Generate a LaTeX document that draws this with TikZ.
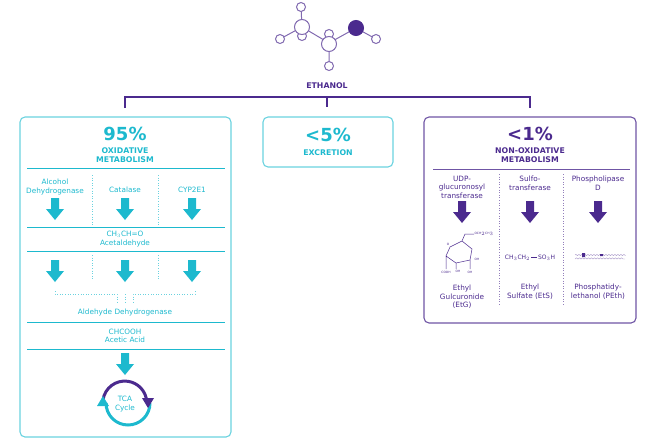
\documentclass[tikz,border=0pt]{standalone}
\usepackage{fontspec}
\usetikzlibrary{decorations.pathmorphing}
\setmainfont{DejaVu Sans}
\begin{document}
\begin{tikzpicture}[x=1pt,y=-1pt,
  cy/.style={text=cyanc,font=\fontsize{7.3}{8.6}\selectfont,align=center},
  pu/.style={text=purp,font=\fontsize{7.3}{8.6}\selectfont,align=center},
  sep/.style={line width=1pt},
  dots/.style={dotted,line width=0.6pt},
  box/.style={draw,rounded corners=5pt,line width=1.1pt},
  big/.style={font=\bfseries\fontsize{18}{18}\selectfont,align=center},
  head/.style={font=\bfseries\fontsize{7.8}{8.8}\selectfont,align=center},
  atom/.style={circle,draw=purp!70,line width=1pt,fill=white,inner sep=0pt},
  darr/.pic={\fill[pic actions] (-4,0)--(4,0)--(4,11)--(9,11)--(0,22)--(-9,11)--(-4,11)--cycle;}
]
\definecolor{cyanc}{HTML}{1DB9CE}
\definecolor{cyanl}{HTML}{6AD2DF}
\definecolor{purp}{HTML}{4B2A8E}
\useasboundingbox (0,0) rectangle (650,445);
% molecule
\draw[purp!70,line width=1pt] (301,7)--(302,27)--(280,39) (302,27)--(329,43)--(356,28)--(376,39) (329,43)--(329,66);
\node[atom,minimum size=9pt] (h1) at (301,7) {};
\node[atom,minimum size=9pt] (h2) at (280,39) {};
\node[atom,minimum size=9pt] (h3) at (302,36) {};
\node[atom,minimum size=15pt] (c1) at (302,27) {};
\node[atom,minimum size=9pt] (h4) at (329,34) {};
\node[atom,minimum size=15pt] (c2) at (329,44) {};
\node[atom,minimum size=9pt] (h5) at (329,66) {};
\node[atom,minimum size=15pt,fill=purp,draw=purp] (o) at (356,28) {};
\node[atom,minimum size=9pt] (h6) at (376,39) {};
\node[head,text=purp] (eth) at (327,86) {ETHANOL};
% bracket
\draw[purp,line width=2.4pt] (125,108)--(125,97)--(530,97)--(530,108);
\draw[purp,line width=2.4pt] (327,97)--(327,107);
% left box
\draw[box,draw=cyanl] (20,117) rectangle (231,437);
\node[big,text=cyanc] (p95) at (125,134) {95\%};
\node[head,text=cyanc] (ox) at (125,155) {OXIDATIVE\\METABOLISM};
\draw[sep,draw=cyanc] (27,168)--(225,168) (27,227)--(225,227) (27,251)--(225,251) (27,322)--(225,322) (27,349)--(225,349);
\draw[dots,draw=cyanl] (92,175)--(92,225) (158,175)--(158,225) (92,255)--(92,280) (158,255)--(158,280);
\node[cy] (adh) at (55,187) {Alcohol\\Dehydrogenase};
\node[cy] (cat) at (125,190) {Catalase};
\node[cy] (cyp) at (192,190) {CYP2E1};
\pic[fill=cyanc] at (55,198) {darr};
\pic[fill=cyanc] at (125,198) {darr};
\pic[fill=cyanc] at (192,198) {darr};
\node[cy] (acet) at (125,239) {CH$_3$CH=O\\Acetaldehyde};
\pic[fill=cyanc] at (55,260) {darr};
\pic[fill=cyanc] at (125,260) {darr};
\pic[fill=cyanc] at (192,260) {darr};
\draw[dots,draw=cyanl] (55,291)--(55,294)--(117,294)--(117,304) (125,294)--(125,304) (195,291)--(195,294)--(133,294)--(133,304);
\node[cy] (aldh) at (125,312) {Aldehyde Dehydrogenase};
\node[cy] (aa) at (125,336) {CHCOOH\\Acetic Acid};
\pic[fill=cyanc] at (125,353) {darr};
\draw[cyanc,line width=3pt] (150,403) arc (0:180:22);
\draw[purp,line width=3pt] (103,400) arc (-172:-4:22);
\fill[purp] (142,398)--(154,398)--(148,408)--cycle;
\fill[cyanc] (97,406)--(109,406)--(103,396)--cycle;
\node[cy] (tca) at (125,404) {TCA\\Cycle};
% middle box
\draw[box,draw=cyanl] (263,117) rectangle (393,167);
\node[big,text=cyanc] (p5) at (328,135) {<5\%};
\node[head,text=cyanc] (exc) at (328,153) {EXCRETION};
% right box
\draw[box,draw=purp!80] (424,117) rectangle (636,323);
\node[big,text=purp] (p1) at (530,134) {<1\%};
\node[head,text=purp] (nox) at (530,155) {NON-OXIDATIVE\\METABOLISM};
\draw[sep,draw=purp!80] (433,169)--(630,169);
\draw[dots,draw=purp!60] (499,174)--(499,305) (563,174)--(563,305);
\node[pu] (udp) at (462,187) {UDP-\\glucuronosyl\\transferase};
\node[pu] (sul) at (530,183) {Sulfo-\\transferase};
\node[pu] (pld) at (598,183) {Phospholipase\\D};
\pic[fill=purp] at (462,201) {darr};
\pic[fill=purp] at (530,201) {darr};
\pic[fill=purp] at (598,201) {darr};
% EtG structure
\draw[purp,line width=0.5pt] (446,256)--(450,247)--(462,241)--(472,249)--(470,260)--(456,263)--cycle (462,241)--(465,234)--(474,234) (446,256)--(446,269) (456,263)--(456,269) (470,260)--(470,269);
\node[pu,font=\fontsize{3}{3}\selectfont] (etg1) at (484,234) {OCH$_2$CH$_3$};
\node[pu,font=\fontsize{3}{3}\selectfont] (etg2) at (448,244) {O};
\node[pu,font=\fontsize{3}{3}\selectfont] (etg3) at (446,272) {COOH};
\node[pu,font=\fontsize{3}{3}\selectfont] (etg4) at (458,271) {OH};
\node[pu,font=\fontsize{3}{3}\selectfont] (etg5) at (470,272) {OH};
\node[pu,font=\fontsize{3}{3}\selectfont] (etg6) at (477,259) {OH};
\node[pu,font=\fontsize{6}{6}\selectfont] (ets) at (530,258) {CH$_3$CH$_2$\,\rule[0.6ex]{6pt}{0.9pt}\,SO$_3$H};
% PEth
\draw[purp!50,line width=0.4pt,decorate,decoration={snake,amplitude=0.6pt,segment length=3pt}] (575,255)--(625,255) (575,259)--(625,259);
\fill[purp] (582,253) rectangle (585,257) (600,254) rectangle (603,256);
\node[pu] (etgn) at (462,297) {Ethyl\\Gulcuronide\\(EtG)};
\node[pu] (etsn) at (530,292) {Ethyl\\Sulfate (EtS)};
\node[pu] (pethn) at (598,292) {Phosphatidy-\\lethanol (PEth)};
\end{tikzpicture}
\end{document}
